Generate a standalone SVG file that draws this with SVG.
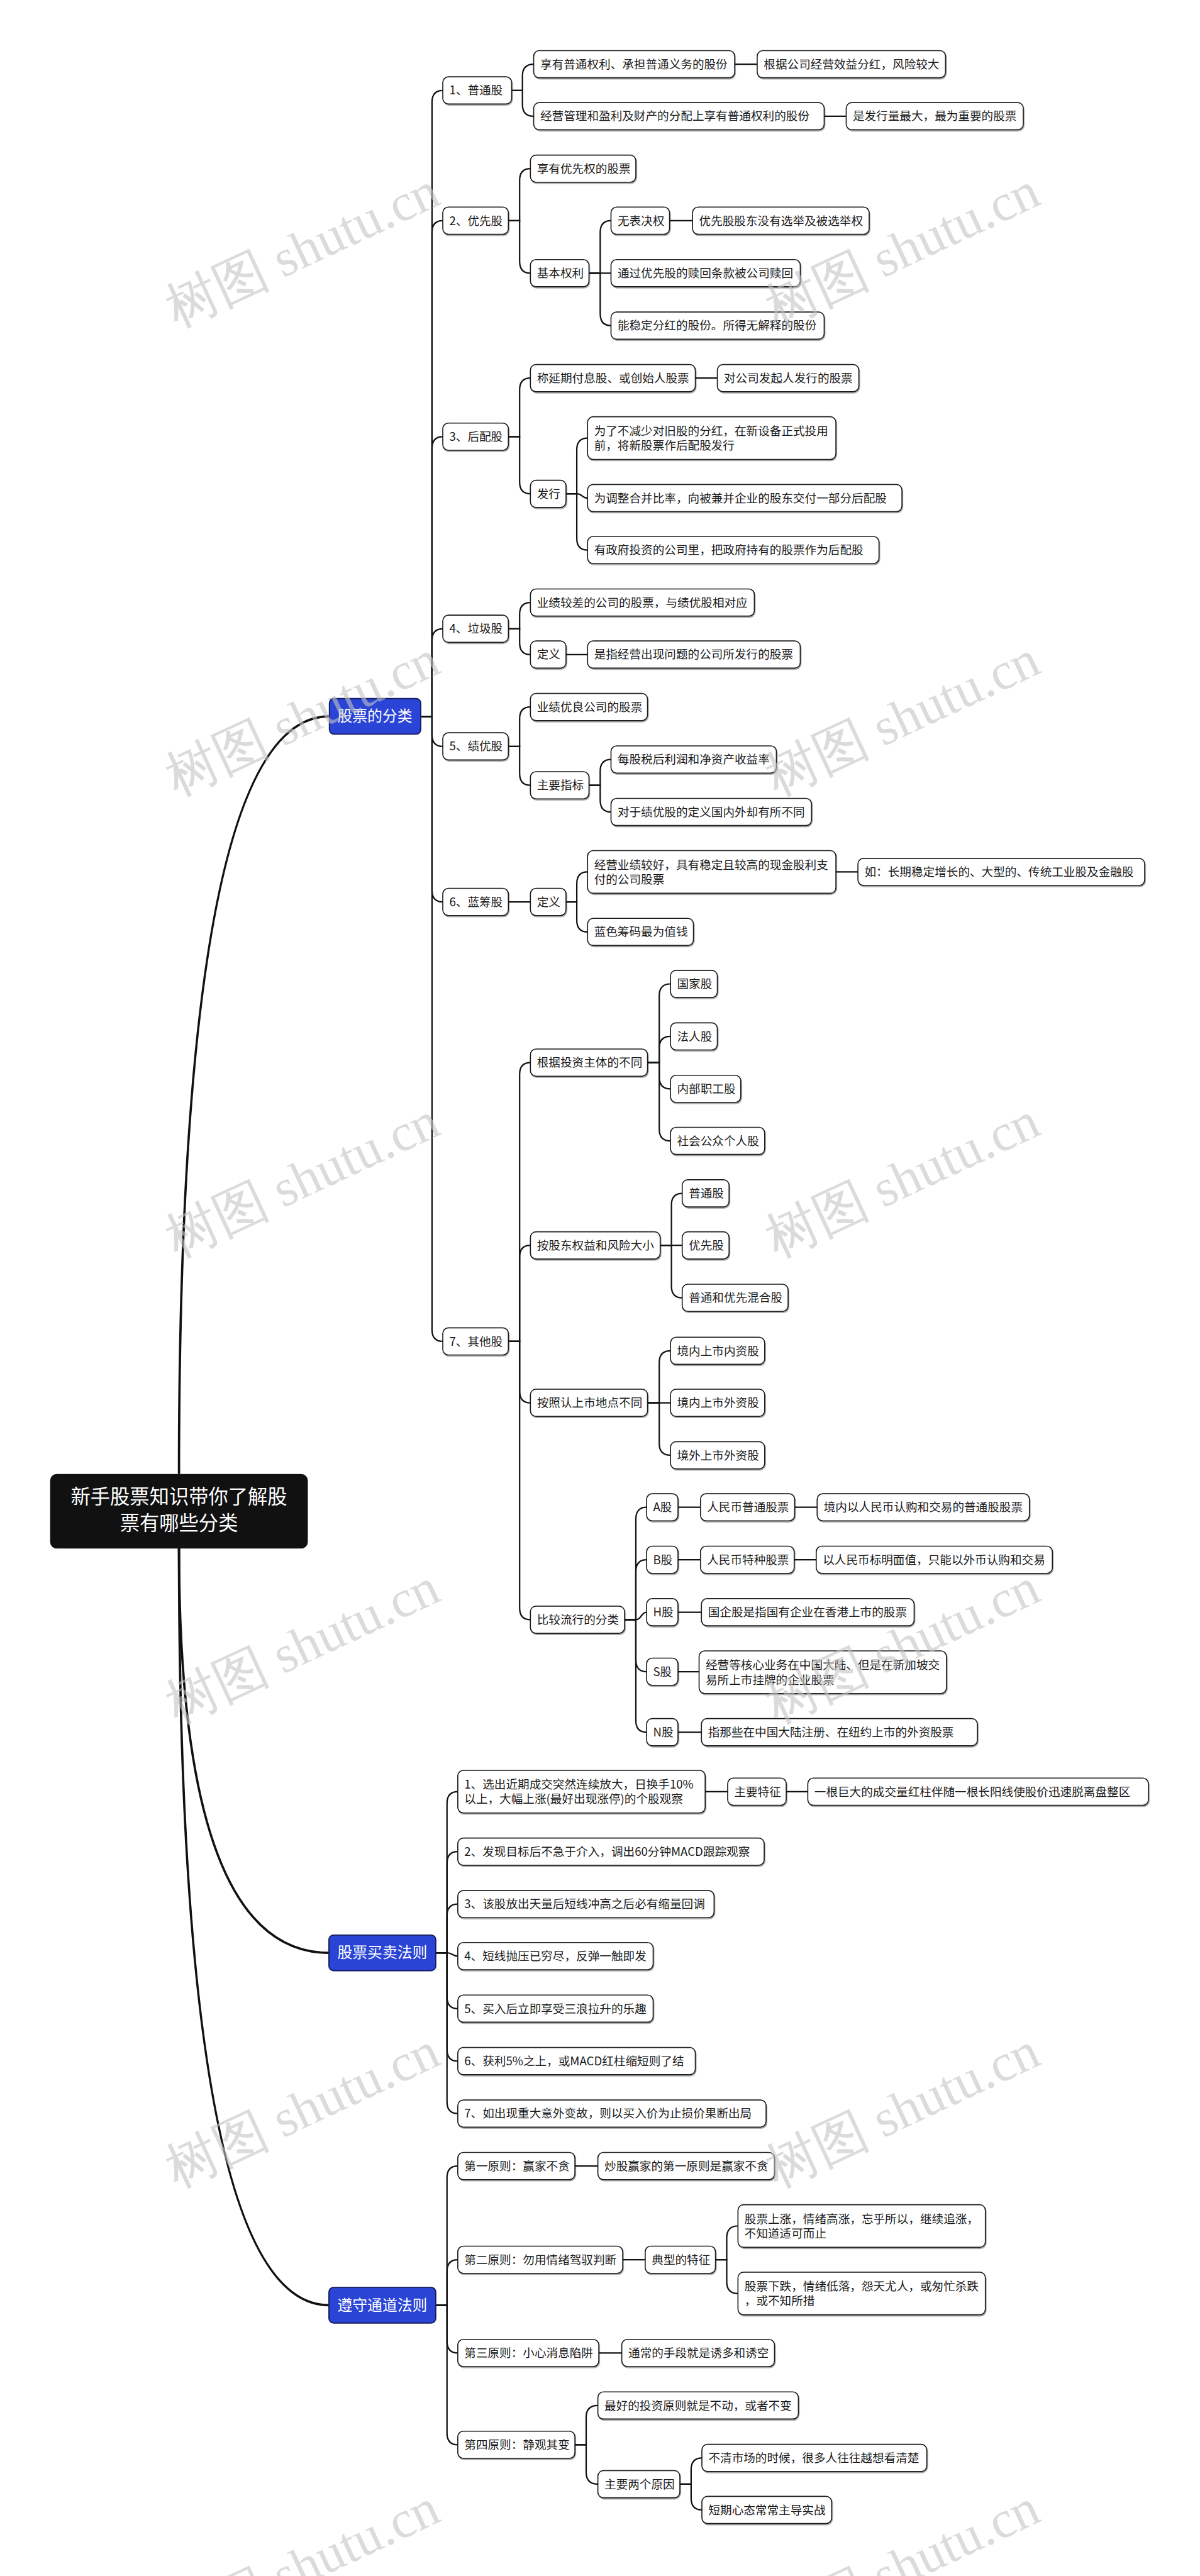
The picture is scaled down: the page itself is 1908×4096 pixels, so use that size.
<svg xmlns="http://www.w3.org/2000/svg" width="1908" height="4096" viewBox="0 0 1908 4096">
<defs>
<filter id="sh" x="-5%" y="-10%" width="110%" height="130%"><feDropShadow dx="1.5" dy="2.5" stdDeviation="1" flood-color="#000" flood-opacity="0.35"/></filter>
<style>
.n rect{fill:#fff;stroke:#1a1a1a;stroke-width:2.2;filter:url(#sh)}
.n text{font-family:"Noto Sans CJK SC","Noto Sans",sans-serif;font-size:25px;fill:#1a1a1a}
.l1 rect{fill:#2a44d6;stroke:#161c5c;stroke-width:2.5}
.l1 text{font-family:"Noto Sans CJK SC","Noto Sans",sans-serif;font-size:32px;fill:#fff;text-anchor:middle}
.root rect{fill:#111}
.root text{font-family:"Noto Sans CJK SC","Noto Sans",sans-serif;font-size:42px;fill:#fff;text-anchor:middle}
.c path{fill:none;stroke:#111;stroke-width:3}
.c path.rc{stroke-width:5}
.wm text{font-family:"Liberation Serif",serif;font-size:112px;fill:#c4c4c4;opacity:0.6;text-anchor:middle}
</style>
</defs>
<rect width="1908" height="4096" fill="#fff"/>
<g transform="scale(0.745)">
<g id="connectors" class="c">
<path class="rc" d="M382 3146Q382 1529 702 1529"/>
<path class="rc" d="M382 3302Q382 4168 702 4168"/>
<path class="rc" d="M382 3302Q382 4920 702 4920"/>
<path d="M898 1529H922V218Q922 193 945 193"/>
<path d="M898 1529H922V496Q922 471 945 471"/>
<path d="M898 1529H922V957Q922 932 945 932"/>
<path d="M898 1529H922V1367Q922 1342 945 1342"/>
<path d="M898 1529H922V1568Q922 1593 945 1593"/>
<path d="M898 1529H922V1900Q922 1925 945 1925"/>
<path d="M898 1529H922V2838Q922 2863 945 2863"/>
<path d="M1092 193H1115V162Q1115 137 1139 137"/>
<path d="M1092 193H1115V223Q1115 248 1139 248"/>
<path d="M1568 137H1616"/>
<path d="M1759 248H1806"/>
<path d="M1085 471H1109V385Q1109 360 1132 360"/>
<path d="M1085 471H1109V558Q1109 583 1132 583"/>
<path d="M1257 583H1281V496Q1281 471 1304 471"/>
<path d="M1257 583H1304"/>
<path d="M1257 583H1281V670Q1281 695 1304 695"/>
<path d="M1429 471H1478"/>
<path d="M1085 932H1109V832Q1109 807 1132 807"/>
<path d="M1085 932H1109V1029Q1109 1054 1132 1054"/>
<path d="M1484 807H1531"/>
<path d="M1208 1054H1231V960Q1231 935 1254 935"/>
<path d="M1208 1054H1231C1243 1054 1242 1063 1254 1063"/>
<path d="M1208 1054H1231V1149Q1231 1174 1254 1174"/>
<path d="M1085 1342H1109V1311Q1109 1286 1132 1286"/>
<path d="M1085 1342H1109V1372Q1109 1397 1132 1397"/>
<path d="M1208 1397H1254"/>
<path d="M1085 1593H1109V1534Q1109 1509 1132 1509"/>
<path d="M1085 1593H1109V1651Q1109 1676 1132 1676"/>
<path d="M1257 1676H1281V1646Q1281 1621 1304 1621"/>
<path d="M1257 1676H1281V1708Q1281 1733 1304 1733"/>
<path d="M1085 1925H1132"/>
<path d="M1208 1925H1231V1886Q1231 1861 1254 1861"/>
<path d="M1208 1925H1231V1964Q1231 1989 1254 1989"/>
<path d="M1784 1861H1831"/>
<path d="M1085 2863H1109V2293Q1109 2268 1132 2268"/>
<path d="M1085 2863H1109V2683Q1109 2658 1132 2658"/>
<path d="M1085 2863H1109V2969Q1109 2994 1132 2994"/>
<path d="M1085 2863H1109V3432Q1109 3457 1132 3457"/>
<path d="M1382 2268H1407V2125Q1407 2100 1431 2100"/>
<path d="M1382 2268H1407V2237Q1407 2212 1431 2212"/>
<path d="M1382 2268H1407V2299Q1407 2324 1431 2324"/>
<path d="M1382 2268H1407V2410Q1407 2435 1431 2435"/>
<path d="M1409 2658H1433V2572Q1433 2547 1456 2547"/>
<path d="M1409 2658H1456"/>
<path d="M1409 2658H1433V2745Q1433 2770 1456 2770"/>
<path d="M1382 2994H1407V2908Q1407 2883 1431 2883"/>
<path d="M1382 2994H1431"/>
<path d="M1382 2994H1407V3081Q1407 3106 1431 3106"/>
<path d="M1333 3457H1357V3242Q1357 3217 1380 3217"/>
<path d="M1333 3457H1357V3354Q1357 3329 1380 3329"/>
<path d="M1333 3457H1357C1369 3457 1368 3441 1380 3441"/>
<path d="M1333 3457H1357V3543Q1357 3568 1380 3568"/>
<path d="M1333 3457H1357V3672Q1357 3697 1380 3697"/>
<path d="M1447 3217H1495"/>
<path d="M1696 3217H1744"/>
<path d="M1447 3329H1495"/>
<path d="M1695 3329H1742"/>
<path d="M1447 3441H1497"/>
<path d="M1447 3568H1492"/>
<path d="M1447 3697H1497"/>
<path d="M930 4168H954V3849Q954 3824 977 3824"/>
<path d="M930 4168H954V3977Q954 3952 977 3952"/>
<path d="M930 4168H954V4089Q954 4064 977 4064"/>
<path d="M930 4168H954C966 4168 965 4175 977 4175"/>
<path d="M930 4168H954V4262Q954 4287 977 4287"/>
<path d="M930 4168H954V4374Q954 4399 977 4399"/>
<path d="M930 4168H954V4486Q954 4511 977 4511"/>
<path d="M1505 3824H1553"/>
<path d="M1678 3824H1724"/>
<path d="M930 4920H954V4648Q954 4623 977 4623"/>
<path d="M930 4920H954V4848Q954 4823 977 4823"/>
<path d="M930 4920H954V4997Q954 5022 977 5022"/>
<path d="M930 4920H954V5193Q954 5218 977 5218"/>
<path d="M1227 4623H1276"/>
<path d="M1329 4823H1377"/>
<path d="M1527 4823H1551V4776Q1551 4751 1575 4751"/>
<path d="M1527 4823H1551V4870Q1551 4895 1575 4895"/>
<path d="M1278 5022H1327"/>
<path d="M1227 5218H1251V5159Q1251 5134 1276 5134"/>
<path d="M1227 5218H1251V5277Q1251 5302 1276 5302"/>
<path d="M1451 5302H1475V5271Q1475 5246 1498 5246"/>
<path d="M1451 5302H1475V5332Q1475 5357 1498 5357"/>
</g>

<g id="root" class="root"><rect x="107" y="3146" width="550" height="159" rx="14"/><text x="382" y="3210">新手股票知识带你了解股</text><text x="382" y="3266">票有哪些分类</text></g>

<g id="l1-a" class="l1"><rect x="703" y="1491" width="195" height="76" rx="10"/><text x="800" y="1540">股票的分类</text></g>
<g id="l1-b" class="l1"><rect x="702" y="4130" width="228" height="76" rx="10"/><text x="816" y="4179">股票买卖法则</text></g>
<g id="l1-c" class="l1"><rect x="702" y="4882" width="228" height="76" rx="10"/><text x="816" y="4931">遵守通道法则</text></g>

<g id="n1" class="n"><rect x="945" y="164" width="147" height="58" rx="12"/><text x="959" y="202">1、普通股</text></g>
<g id="n1a" class="n"><rect x="1139" y="108" width="429" height="58" rx="12"/><text x="1153" y="146">享有普通权利、承担普通义务的股份</text></g>
<g id="n1a1" class="n"><rect x="1616" y="108" width="402" height="58" rx="12"/><text x="1630" y="146">根据公司经营效益分红，风险较大</text></g>
<g id="n1b" class="n"><rect x="1139" y="219" width="620" height="58" rx="12"/><text x="1153" y="257">经营管理和盈利及财产的分配上享有普通权利的股份</text></g>
<g id="n1b1" class="n"><rect x="1806" y="219" width="378" height="58" rx="12"/><text x="1820" y="257">是发行量最大，最为重要的股票</text></g>
<g id="n2" class="n"><rect x="945" y="442" width="140" height="58" rx="12"/><text x="959" y="480">2、优先股</text></g>
<g id="n2a" class="n"><rect x="1132" y="331" width="225" height="58" rx="12"/><text x="1146" y="369">享有优先权的股票</text></g>
<g id="n2b" class="n"><rect x="1132" y="554" width="125" height="58" rx="12"/><text x="1146" y="592">基本权利</text></g>
<g id="n2b1" class="n"><rect x="1304" y="442" width="125" height="58" rx="12"/><text x="1318" y="480">无表决权</text></g>
<g id="n2b1a" class="n"><rect x="1478" y="442" width="377" height="58" rx="12"/><text x="1492" y="480">优先股股东没有选举及被选举权</text></g>
<g id="n2b2" class="n"><rect x="1304" y="554" width="404" height="58" rx="12"/><text x="1318" y="592">通过优先股的赎回条款被公司赎回</text></g>
<g id="n2b3" class="n"><rect x="1304" y="666" width="455" height="58" rx="12"/><text x="1318" y="704">能稳定分红的股份。所得无解释的股份</text></g>
<g id="n3" class="n"><rect x="945" y="903" width="140" height="58" rx="12"/><text x="959" y="941">3、后配股</text></g>
<g id="n3a" class="n"><rect x="1132" y="778" width="352" height="58" rx="12"/><text x="1146" y="816">称延期付息股、或创始人股票</text></g>
<g id="n3a1" class="n"><rect x="1531" y="778" width="302" height="58" rx="12"/><text x="1545" y="816">对公司发起人发行的股票</text></g>
<g id="n3b" class="n"><rect x="1132" y="1025" width="76" height="58" rx="12"/><text x="1146" y="1063">发行</text></g>
<g id="n3b1" class="n"><rect x="1254" y="889.5" width="530" height="91" rx="12"/><text x="1268" y="929">为了不减少对旧股的分红，在新设备正式投用</text><text x="1268" y="960">前，将新股票作后配股发行</text></g>
<g id="n3b2" class="n"><rect x="1254" y="1034" width="671" height="58" rx="12"/><text x="1268" y="1072">为调整合并比率，向被兼并企业的股东交付一部分后配股</text></g>
<g id="n3b3" class="n"><rect x="1254" y="1145" width="622" height="58" rx="12"/><text x="1268" y="1183">有政府投资的公司里，把政府持有的股票作为后配股</text></g>
<g id="n4" class="n"><rect x="945" y="1313" width="140" height="58" rx="12"/><text x="959" y="1351">4、垃圾股</text></g>
<g id="n4a" class="n"><rect x="1132" y="1257" width="478" height="58" rx="12"/><text x="1146" y="1295">业绩较差的公司的股票，与绩优股相对应</text></g>
<g id="n4b" class="n"><rect x="1132" y="1368" width="76" height="58" rx="12"/><text x="1146" y="1406">定义</text></g>
<g id="n4b1" class="n"><rect x="1254" y="1368" width="454" height="58" rx="12"/><text x="1268" y="1406">是指经营出现问题的公司所发行的股票</text></g>
<g id="n5" class="n"><rect x="945" y="1564" width="140" height="58" rx="12"/><text x="959" y="1602">5、绩优股</text></g>
<g id="n5a" class="n"><rect x="1132" y="1480" width="250" height="58" rx="12"/><text x="1146" y="1518">业绩优良公司的股票</text></g>
<g id="n5b" class="n"><rect x="1132" y="1647" width="125" height="58" rx="12"/><text x="1146" y="1685">主要指标</text></g>
<g id="n5b1" class="n"><rect x="1304" y="1592" width="353" height="58" rx="12"/><text x="1318" y="1630">每股税后利润和净资产收益率</text></g>
<g id="n5b2" class="n"><rect x="1304" y="1704" width="428" height="58" rx="12"/><text x="1318" y="1742">对于绩优股的定义国内外却有所不同</text></g>
<g id="n6" class="n"><rect x="945" y="1896" width="140" height="58" rx="12"/><text x="959" y="1934">6、蓝筹股</text></g>
<g id="n6a" class="n"><rect x="1132" y="1896" width="76" height="58" rx="12"/><text x="1146" y="1934">定义</text></g>
<g id="n6a1" class="n"><rect x="1254" y="1815.5" width="530" height="91" rx="12"/><text x="1268" y="1855">经营业绩较好，具有稳定且较高的现金股利支</text><text x="1268" y="1886">付的公司股票</text></g>
<g id="n6a1a" class="n"><rect x="1831" y="1832" width="612" height="58" rx="12"/><text x="1845" y="1870">如：长期稳定增长的、大型的、传统工业股及金融股</text></g>
<g id="n6a2" class="n"><rect x="1254" y="1960" width="226" height="58" rx="12"/><text x="1268" y="1998">蓝色筹码最为值钱</text></g>
<g id="n7" class="n"><rect x="945" y="2834" width="140" height="58" rx="12"/><text x="959" y="2872">7、其他股</text></g>
<g id="n7a" class="n"><rect x="1132" y="2239" width="250" height="58" rx="12"/><text x="1146" y="2277">根据投资主体的不同</text></g>
<g id="n7a1" class="n"><rect x="1431" y="2071" width="100" height="58" rx="12"/><text x="1445" y="2109">国家股</text></g>
<g id="n7a2" class="n"><rect x="1431" y="2183" width="100" height="58" rx="12"/><text x="1445" y="2221">法人股</text></g>
<g id="n7a3" class="n"><rect x="1431" y="2295" width="150" height="58" rx="12"/><text x="1445" y="2333">内部职工股</text></g>
<g id="n7a4" class="n"><rect x="1431" y="2406" width="201" height="58" rx="12"/><text x="1445" y="2444">社会公众个人股</text></g>
<g id="n7b" class="n"><rect x="1132" y="2629" width="277" height="58" rx="12"/><text x="1146" y="2667">按股东权益和风险大小</text></g>
<g id="n7b1" class="n"><rect x="1456" y="2518" width="100" height="58" rx="12"/><text x="1470" y="2556">普通股</text></g>
<g id="n7b2" class="n"><rect x="1456" y="2629" width="100" height="58" rx="12"/><text x="1470" y="2667">优先股</text></g>
<g id="n7b3" class="n"><rect x="1456" y="2741" width="226" height="58" rx="12"/><text x="1470" y="2779">普通和优先混合股</text></g>
<g id="n7c" class="n"><rect x="1132" y="2965" width="250" height="58" rx="12"/><text x="1146" y="3003">按照认上市地点不同</text></g>
<g id="n7c1" class="n"><rect x="1431" y="2854" width="201" height="58" rx="12"/><text x="1445" y="2892">境内上市内资股</text></g>
<g id="n7c2" class="n"><rect x="1431" y="2965" width="201" height="58" rx="12"/><text x="1445" y="3003">境内上市外资股</text></g>
<g id="n7c3" class="n"><rect x="1431" y="3077" width="201" height="58" rx="12"/><text x="1445" y="3115">境外上市外资股</text></g>
<g id="n7d" class="n"><rect x="1132" y="3428" width="201" height="58" rx="12"/><text x="1146" y="3466">比较流行的分类</text></g>
<g id="n7d1" class="n"><rect x="1380" y="3188" width="67" height="58" rx="12"/><text x="1394" y="3226">A股</text></g>
<g id="n7d1a" class="n"><rect x="1495" y="3188" width="201" height="58" rx="12"/><text x="1509" y="3226">人民币普通股票</text></g>
<g id="n7d1b" class="n"><rect x="1744" y="3188" width="453" height="58" rx="12"/><text x="1758" y="3226">境内以人民币认购和交易的普通股股票</text></g>
<g id="n7d2" class="n"><rect x="1380" y="3300" width="67" height="58" rx="12"/><text x="1394" y="3338">B股</text></g>
<g id="n7d2a" class="n"><rect x="1495" y="3300" width="200" height="58" rx="12"/><text x="1509" y="3338">人民币特种股票</text></g>
<g id="n7d2b" class="n"><rect x="1742" y="3300" width="504" height="58" rx="12"/><text x="1756" y="3338">以人民币标明面值，只能以外币认购和交易</text></g>
<g id="n7d3" class="n"><rect x="1380" y="3412" width="67" height="58" rx="12"/><text x="1394" y="3450">H股</text></g>
<g id="n7d3a" class="n"><rect x="1497" y="3412" width="454" height="58" rx="12"/><text x="1511" y="3450">国企股是指国有企业在香港上市的股票</text></g>
<g id="n7d4" class="n"><rect x="1380" y="3539" width="67" height="58" rx="12"/><text x="1394" y="3577">S股</text></g>
<g id="n7d4a" class="n"><rect x="1492" y="3523.5" width="528" height="91" rx="12"/><text x="1506" y="3563">经营等核心业务在中国大陆、但是在新加坡交</text><text x="1506" y="3594">易所上市挂牌的企业股票</text></g>
<g id="n7d5" class="n"><rect x="1380" y="3668" width="67" height="58" rx="12"/><text x="1394" y="3706">N股</text></g>
<g id="n7d5a" class="n"><rect x="1497" y="3668" width="589" height="58" rx="12"/><text x="1511" y="3706">指那些在中国大陆注册、在纽约上市的外资股票</text></g>

<g id="b1" class="n"><rect x="977" y="3778.5" width="528" height="91" rx="12"/><text x="991" y="3818">1、选出近期成交突然连续放大，日换手10%</text><text x="991" y="3849">以上，大幅上涨(最好出现涨停)的个股观察</text></g>
<g id="b1a" class="n"><rect x="1553" y="3795" width="125" height="58" rx="12"/><text x="1567" y="3833">主要特征</text></g>
<g id="b1a1" class="n"><rect x="1724" y="3795" width="727" height="58" rx="12"/><text x="1738" y="3833">一根巨大的成交量红柱伴随一根长阳线使股价迅速脱离盘整区</text></g>
<g id="b2" class="n"><rect x="977" y="3923" width="654" height="58" rx="12"/><text x="991" y="3961">2、发现目标后不急于介入，调出60分钟MACD跟踪观察</text></g>
<g id="b3" class="n"><rect x="977" y="4035" width="547" height="58" rx="12"/><text x="991" y="4073">3、该股放出天量后短线冲高之后必有缩量回调</text></g>
<g id="b4" class="n"><rect x="977" y="4146" width="417" height="58" rx="12"/><text x="991" y="4184">4、短线抛压已穷尽，反弹一触即发</text></g>
<g id="b5" class="n"><rect x="977" y="4258" width="417" height="58" rx="12"/><text x="991" y="4296">5、买入后立即享受三浪拉升的乐趣</text></g>
<g id="b6" class="n"><rect x="977" y="4370" width="507" height="58" rx="12"/><text x="991" y="4408">6、获利5%之上，或MACD红柱缩短则了结</text></g>
<g id="b7" class="n"><rect x="977" y="4482" width="658" height="58" rx="12"/><text x="991" y="4520">7、如出现重大意外变故，则以买入价为止损价果断出局</text></g>

<g id="c1" class="n"><rect x="977" y="4594" width="250" height="58" rx="12"/><text x="991" y="4632">第一原则：赢家不贪</text></g>
<g id="c1a" class="n"><rect x="1276" y="4594" width="377" height="58" rx="12"/><text x="1290" y="4632">炒股赢家的第一原则是赢家不贪</text></g>
<g id="c2" class="n"><rect x="977" y="4794" width="352" height="58" rx="12"/><text x="991" y="4832">第二原则：勿用情绪驾驭判断</text></g>
<g id="c2a" class="n"><rect x="1377" y="4794" width="150" height="58" rx="12"/><text x="1391" y="4832">典型的特征</text></g>
<g id="c2a1" class="n"><rect x="1575" y="4705.5" width="528" height="91" rx="12"/><text x="1589" y="4745">股票上涨，情绪高涨，忘乎所以，继续追涨，</text><text x="1589" y="4776">不知道适可而止</text></g>
<g id="c2a2" class="n"><rect x="1575" y="4849.5" width="528" height="91" rx="12"/><text x="1589" y="4889">股票下跌，情绪低落，怨天尤人，或匆忙杀跌</text><text x="1589" y="4920">，或不知所措</text></g>
<g id="c3" class="n"><rect x="977" y="4993" width="301" height="58" rx="12"/><text x="991" y="5031">第三原则：小心消息陷阱</text></g>
<g id="c3a" class="n"><rect x="1327" y="4993" width="326" height="58" rx="12"/><text x="1341" y="5031">通常的手段就是诱多和诱空</text></g>
<g id="c4" class="n"><rect x="977" y="5189" width="250" height="58" rx="12"/><text x="991" y="5227">第四原则：静观其变</text></g>
<g id="c4a" class="n"><rect x="1276" y="5105" width="428" height="58" rx="12"/><text x="1290" y="5143">最好的投资原则就是不动，或者不变</text></g>
<g id="c4b" class="n"><rect x="1276" y="5273" width="175" height="58" rx="12"/><text x="1290" y="5311">主要两个原因</text></g>
<g id="c4b1" class="n"><rect x="1498" y="5217" width="480" height="58" rx="12"/><text x="1512" y="5255">不清市场的时候，很多人往往越想看清楚</text></g>
<g id="c4b2" class="n"><rect x="1498" y="5328" width="277" height="58" rx="12"/><text x="1512" y="5366">短期心态常常主导实战</text></g>

<g id="watermarks" class="wm">
<text x="646" y="570" transform="rotate(-25 646 535)">树图 shutu.cn</text>
<text x="646" y="1570" transform="rotate(-25 646 1535)">树图 shutu.cn</text>
<text x="646" y="2555" transform="rotate(-25 646 2520)">树图 shutu.cn</text>
<text x="646" y="3550" transform="rotate(-25 646 3515)">树图 shutu.cn</text>
<text x="646" y="4540" transform="rotate(-25 646 4505)">树图 shutu.cn</text>
<text x="646" y="5515" transform="rotate(-25 646 5480)">树图 shutu.cn</text>
<text x="1927" y="570" transform="rotate(-25 1927 535)">树图 shutu.cn</text>
<text x="1927" y="1570" transform="rotate(-25 1927 1535)">树图 shutu.cn</text>
<text x="1927" y="2555" transform="rotate(-25 1927 2520)">树图 shutu.cn</text>
<text x="1927" y="3550" transform="rotate(-25 1927 3515)">树图 shutu.cn</text>
<text x="1927" y="4540" transform="rotate(-25 1927 4505)">树图 shutu.cn</text>
<text x="1927" y="5515" transform="rotate(-25 1927 5480)">树图 shutu.cn</text>
</g>
</g>
</svg>
